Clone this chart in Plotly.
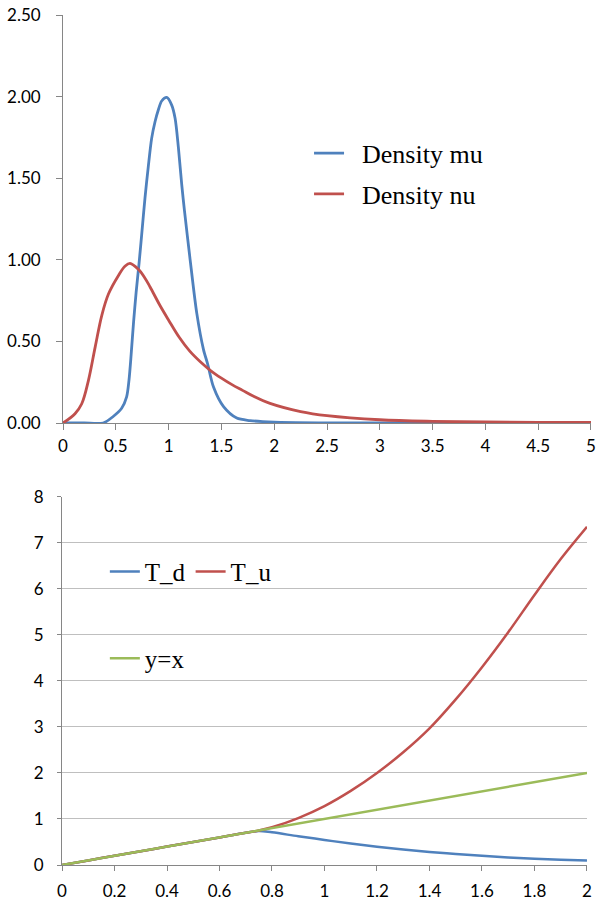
import plotly.graph_objects as go

# ---- Top chart data (densities) ----
mu_x = [0, 0.2, 0.38, 0.475, 0.555, 0.602, 0.624, 0.645, 0.668, 0.692, 0.72, 0.744, 0.776,
        0.807, 0.839, 0.871, 0.902, 0.934, 0.982, 1.029, 1.061, 1.092, 1.124, 1.15, 1.2, 1.267,
        1.33, 1.37, 1.425, 1.52, 1.645, 1.77, 2.0, 2.5, 3, 4, 5]
mu_y = [0, 0, 0, 0.04, 0.09, 0.16, 0.26, 0.42, 0.62, 0.80, 0.98, 1.15, 1.38,
        1.57, 1.744, 1.846, 1.918, 1.973, 1.995, 1.948, 1.867, 1.69, 1.46, 1.30, 1.02, 0.67,
        0.45, 0.36, 0.22, 0.10, 0.03, 0.015, 0.005, 0.001, 0, 0, 0]

nu_x = [0, 0.113, 0.177, 0.24, 0.304, 0.367, 0.43, 0.525, 0.586, 0.634, 0.715, 0.776, 0.823,
        0.918, 1.0, 1.1, 1.2, 1.3, 1.4, 1.5, 1.6, 1.7, 1.8, 1.96, 2.25, 2.5, 3, 3.5, 4, 4.5, 5]
nu_y = [0, 0.057, 0.118, 0.26, 0.465, 0.66, 0.79, 0.904, 0.96, 0.978, 0.94, 0.887, 0.835,
        0.72, 0.63, 0.525, 0.44, 0.375, 0.32, 0.275, 0.235, 0.20, 0.165, 0.12, 0.07, 0.045,
        0.02, 0.01, 0.006, 0.004, 0.003]

# ---- Bottom chart data ----
t_x = [0, 0.1, 0.2, 0.3, 0.4, 0.5, 0.6, 0.7, 0.75, 0.8, 0.9, 1.0, 1.1, 1.2, 1.3, 1.4, 1.5,
       1.6, 1.7, 1.8, 1.9, 2.0]
t_d = [0, 0.1, 0.2, 0.3, 0.4, 0.5, 0.6, 0.7, 0.74, 0.71, 0.625, 0.545, 0.465, 0.395, 0.335,
       0.285, 0.24, 0.2, 0.165, 0.137, 0.115, 0.097]
t_u = [0, 0.1, 0.2, 0.3, 0.4, 0.5, 0.6, 0.7, 0.75, 0.82, 1.02, 1.28, 1.61, 2.0, 2.45, 2.97,
       3.6, 4.3, 5.06, 5.87, 6.65, 7.35]
yx = t_x

BLUE = "#4F81BD"
RED = "#C0504D"
GREEN = "#9BBB59"
AXIS = "#868686"
GRID = "#BFBFBF"
TICKFONT = dict(family="Lato, Open Sans, sans-serif", size=17, color="#000000")
LEGFONT = dict(family="Liberation Serif, DejaVu Serif, serif", size=26, color="#000000")
LEGFONT2 = dict(family="Liberation Serif, DejaVu Serif, serif", size=25, color="#000000")
PAD = "\u00a0\u00a0"

fig = go.Figure()
fig.add_trace(go.Scatter(x=mu_x, y=mu_y, mode="lines", name=PAD + "Density mu",
                         legendgroup="a",
                         line=dict(color=BLUE, width=2.8, shape="spline", smoothing=0.8),
                         xaxis="x", yaxis="y", legend="legend"))
fig.add_trace(go.Scatter(x=nu_x, y=nu_y, mode="lines", name=PAD + "Density nu",
                         legendgroup="b",
                         line=dict(color=RED, width=2.8, shape="spline", smoothing=1.0),
                         xaxis="x", yaxis="y", legend="legend"))
fig.add_trace(go.Scatter(x=t_x, y=t_d, mode="lines", name="T_d",
                         line=dict(color=BLUE, width=2.5, shape="spline", smoothing=1.0),
                         xaxis="x2", yaxis="y2", legend="legend2"))
fig.add_trace(go.Scatter(x=t_x, y=t_u, mode="lines", name="T_u",
                         line=dict(color=RED, width=2.5, shape="spline", smoothing=1.0),
                         xaxis="x2", yaxis="y2", legend="legend2"))
fig.add_trace(go.Scatter(x=t_x, y=yx, mode="lines", name="y=x",
                         line=dict(color=GREEN, width=2.5),
                         xaxis="x2", yaxis="y2", legend="legend3"))

axis_common = dict(showline=True, linecolor=AXIS, linewidth=1, ticks="outside",
                   tickcolor=AXIS, tickwidth=1, tickfont=TICKFONT, zeroline=False,
                   automargin=False)

fig.update_layout(
    template="none",
    width=601, height=900,
    margin=dict(l=62, r=10, t=15, b=35),
    paper_bgcolor="white", plot_bgcolor="white",
    showlegend=True,
    xaxis=dict(domain=[0.002, 1.0], range=[0, 5], dtick=0.5, tick0=0, showgrid=False,
               anchor="y", ticklen=6, ticklabelstandoff=2, **axis_common),
    yaxis=dict(domain=[0.52, 1.0], range=[0, 2.5], dtick=0.5, tick0=0, tickformat=".2f",
               showgrid=False, anchor="x", ticklen=6, ticklabelstandoff=12, **axis_common),
    xaxis2=dict(domain=[0.0, 0.9924], range=[0, 2], dtick=0.2, tick0=0, showgrid=False,
                anchor="y2", ticklen=5, ticklabelstandoff=6, **axis_common),
    yaxis2=dict(domain=[0.0, 0.433], range=[0, 8], dtick=1, tick0=0, showgrid=True,
                gridcolor=GRID, gridwidth=1, anchor="x2", ticklen=4, ticklabelstandoff=10,
                **axis_common),
    legend=dict(x=0.467, y=0.865, xanchor="left", yanchor="top", font=LEGFONT,
                bgcolor="rgba(0,0,0,0)", itemwidth=30, traceorder="grouped",
                tracegroupgap=4, borderwidth=0),
    legend2=dict(x=0.081, y=0.372, xanchor="left", yanchor="top", font=LEGFONT2,
                 orientation="h", bgcolor="rgba(0,0,0,0)", itemwidth=30, borderwidth=0),
    legend3=dict(x=0.081, y=0.27, xanchor="left", yanchor="top", font=LEGFONT2,
                 orientation="h", bgcolor="rgba(0,0,0,0)", itemwidth=30, borderwidth=0),
)

fig.write_html("out.html",
               config={"displayModeBar": False},
               post_script="document.body.style.margin='0';document.body.style.padding='0';")
